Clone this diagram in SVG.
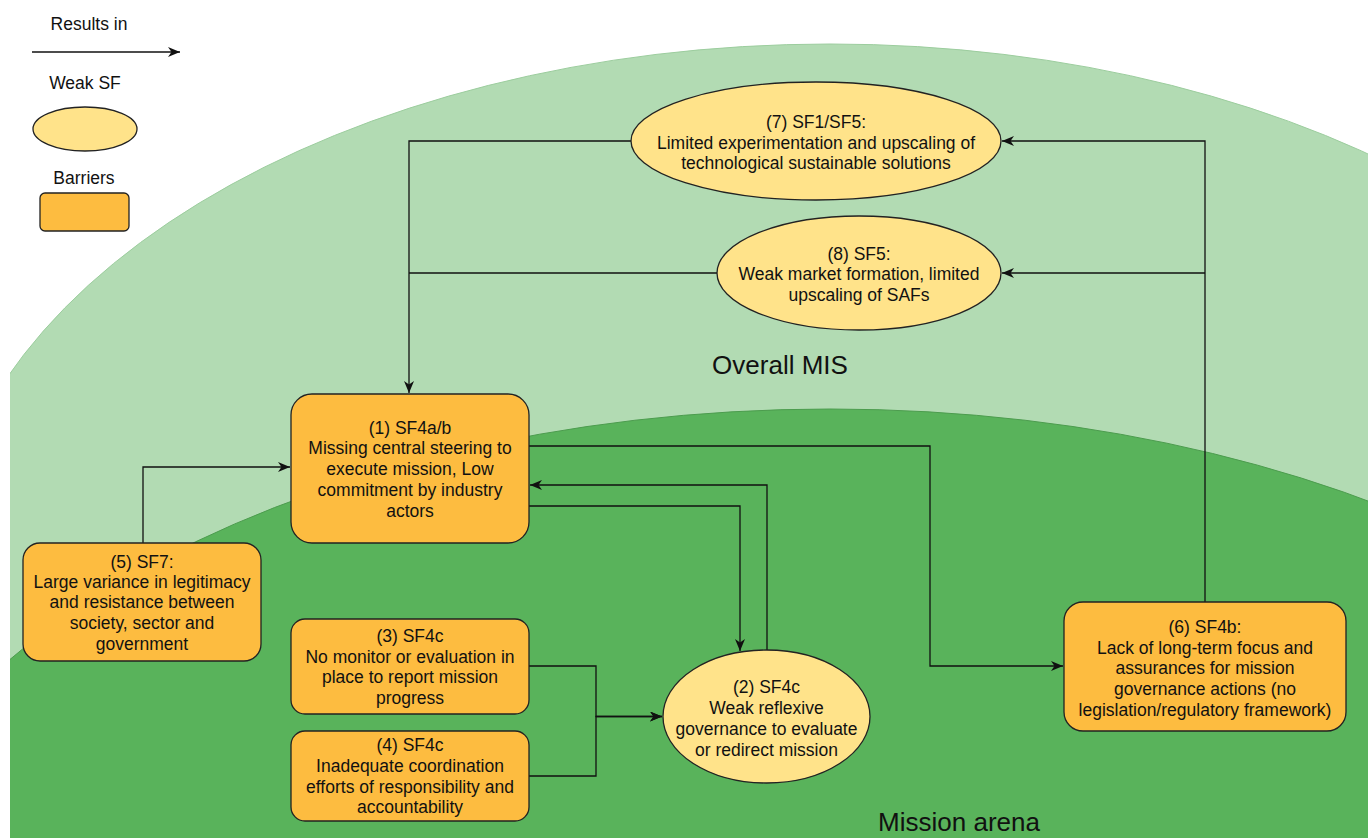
<svg xmlns="http://www.w3.org/2000/svg" width="1368" height="838" viewBox="0 0 1368 838">
  <style>
    text { font-family: "Liberation Sans", Arial, Helvetica, sans-serif; font-size: 17.5px; fill: #111; text-anchor: middle; }
    .big { font-size: 26px; }
    .barrier { fill: #fdbc40; stroke: #222; stroke-width: 1.3; }
    .weak { fill: #ffe38a; stroke: #222; stroke-width: 1.3; }
    .edge { fill: none; stroke: #111; stroke-width: 1.3; marker-end: url(#arrow); }
    .edge-plain { fill: none; stroke: #111; stroke-width: 1.3; }
  </style>
  <defs>
    <marker id="arrow" markerUnits="userSpaceOnUse" markerWidth="13" markerHeight="11" refX="12" refY="5" orient="auto">
      <path d="M0,0 L12,5 L0,10 L3.5,5 Z" fill="#111"/>
    </marker>
    <clipPath id="canvas">
      <rect x="10" y="0" width="1358" height="838"/>
    </clipPath>
  </defs>

  <rect width="1368" height="838" fill="#ffffff"/>

  <!-- system boundaries -->
  <g id="areas" clip-path="url(#canvas)">
    <ellipse id="overall-mis" cx="830" cy="587" rx="892" ry="543" fill="#b2dbb3" stroke="#9ccd9e" stroke-width="1"/>
    <ellipse id="mission-arena" cx="830" cy="994" rx="1000" ry="585" fill="#59b35b" stroke="#4c9c4e" stroke-width="1"/>
  </g>
  <text class="big" x="780" y="374">Overall MIS</text>
  <text class="big" x="959" y="831">Mission arena</text>

  <!-- legend -->
  <g id="legend">
    <text x="89" y="29.5">Results in</text>
    <path class="edge" d="M32,52 H180"/>
    <text x="85" y="89">Weak SF</text>
    <ellipse class="weak" cx="85" cy="129" rx="52" ry="22"/>
    <text x="84" y="184">Barriers</text>
    <rect class="barrier" x="40" y="193" width="89" height="38" rx="5"/>
  </g>

  <!-- connectors -->
  <g id="connectors">
    <path class="edge" d="M632,141 H409 V393"/>
    <path class="edge-plain" d="M717,273 H409"/>
    <path class="edge" d="M1205,602 V141 H1002"/>
    <path class="edge" d="M1205,273 H1002"/>
    <path class="edge" d="M529,446 H930 V666 H1063"/>
    <path class="edge" d="M767,650 V485 H530"/>
    <path class="edge" d="M529,506 H740 V651"/>
    <path class="edge" d="M143,543 V467 H290"/>
    <path class="edge" d="M529,666 H596 V716.5 H662"/>
    <path class="edge" d="M529,776 H596 V716.5 H662"/>
  </g>

  <!-- (7) -->
  <g id="node-7">
    <ellipse class="weak" cx="816" cy="141" rx="185" ry="59"/>
    <text x="816" y="128">(7) SF1/SF5:</text>
    <text x="816" y="148.5">Limited experimentation and upscaling of</text>
    <text x="816" y="169">technological sustainable solutions</text>
  </g>

  <!-- (8) -->
  <g id="node-8">
    <ellipse class="weak" cx="859" cy="273" rx="142" ry="57"/>
    <text x="859" y="259.5">(8) SF5:</text>
    <text x="859" y="280">Weak market formation, limited</text>
    <text x="859" y="301">upscaling of SAFs</text>
  </g>

  <!-- (1) -->
  <g id="node-1">
    <rect class="barrier" x="291" y="394" width="238" height="149" rx="21"/>
    <text x="410" y="433.7">(1) SF4a/b</text>
    <text x="410" y="454.3">Missing central steering to</text>
    <text x="410" y="475.3">execute mission, Low</text>
    <text x="410" y="496">commitment by industry</text>
    <text x="410" y="516.7">actors</text>
  </g>

  <!-- (5) -->
  <g id="node-5">
    <rect class="barrier" x="23" y="543" width="238" height="118" rx="17"/>
    <text x="142" y="567.7">(5) SF7:</text>
    <text x="142" y="587.7">Large variance in legitimacy</text>
    <text x="142" y="608.3">and resistance between</text>
    <text x="142" y="629.3">society, sector and</text>
    <text x="142" y="650">government</text>
  </g>

  <!-- (3) -->
  <g id="node-3">
    <rect class="barrier" x="291" y="619" width="238" height="95" rx="14"/>
    <text x="410" y="641.7">(3) SF4c</text>
    <text x="410" y="662.7">No monitor or evaluation in</text>
    <text x="410" y="682.7">place to report mission</text>
    <text x="410" y="703.7">progress</text>
  </g>

  <!-- (4) -->
  <g id="node-4">
    <rect class="barrier" x="291" y="731" width="238" height="90" rx="14"/>
    <text x="410" y="751">(4) SF4c</text>
    <text x="410" y="771.7">Inadequate coordination</text>
    <text x="410" y="792.7">efforts of responsibility and</text>
    <text x="410" y="813.3">accountability</text>
  </g>

  <!-- (2) -->
  <g id="node-2">
    <ellipse class="weak" cx="766.5" cy="716.5" rx="103.5" ry="66.5"/>
    <text x="766.5" y="693">(2) SF4c</text>
    <text x="766.5" y="714">Weak reflexive</text>
    <text x="766.5" y="735">governance to evaluate</text>
    <text x="766.5" y="756">or redirect mission</text>
  </g>

  <!-- (6) -->
  <g id="node-6">
    <rect class="barrier" x="1064" y="602" width="282" height="129" rx="19"/>
    <text x="1205" y="632.7">(6) SF4b:</text>
    <text x="1205" y="653.7">Lack of long-term focus and</text>
    <text x="1205" y="674.3">assurances for mission</text>
    <text x="1205" y="695.3">governance actions (no</text>
    <text x="1205" y="716">legislation/regulatory framework)</text>
  </g>
</svg>
